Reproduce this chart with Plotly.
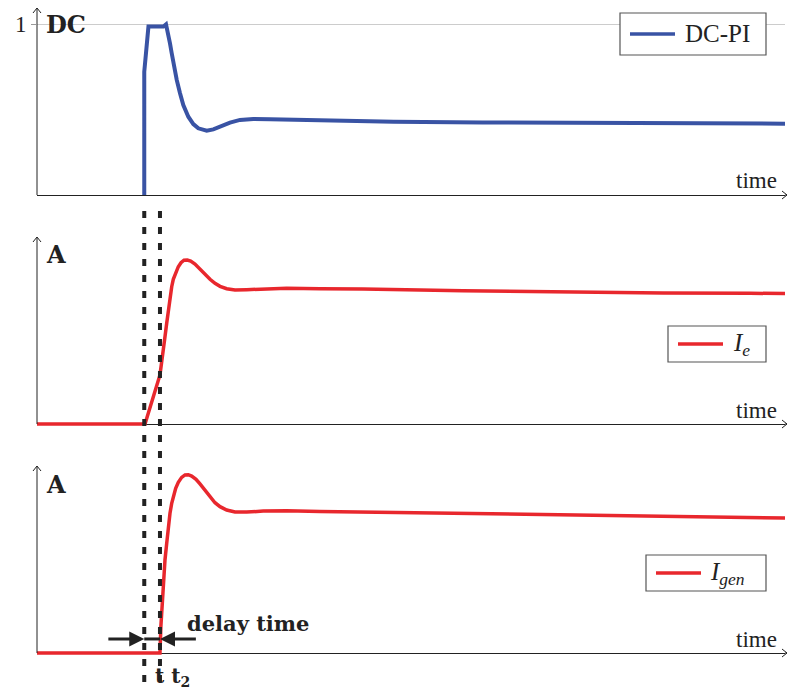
import plotly.graph_objects as go

# ---------------------------------------------------------------- data
# time in arbitrary units (0 .. 100 across the axis)
t_switch = 14.34   # duty-cycle controller switches on
t_delay = 16.44    # generator current starts to flow

dc_t = [14.34, 14.34, 14.9, 16.9, 17.25, 17.55, 17.78, 18.01, 18.22, 18.68, 19.12, 19.56,
        20.23, 20.9, 21.56, 22.69, 23.57, 24.69, 25.8, 27.14, 28.92, 31.15, 34.72, 39.17,
        47.7, 59.6, 75.3, 90.0, 100.0]
dc_v = [0.0, 0.72, 0.985, 0.985, 0.998, 0.946, 0.887, 0.829, 0.770, 0.673, 0.595, 0.526,
        0.458, 0.415, 0.390, 0.376, 0.384, 0.404, 0.423, 0.439, 0.444, 0.443, 0.439, 0.433,
        0.428, 0.424, 0.419, 0.417, 0.417]

ie_t = [0, 14.44, 16.44, 16.67, 16.89, 17.11, 17.34, 17.55, 17.78, 18.01, 18.22, 18.54,
        18.89, 19.25, 19.65, 20.09, 20.55, 21.12, 21.79, 22.46, 23.13, 23.8, 24.47, 25.36,
        26.47, 28.03, 30.25, 33.38, 37.83, 43.58, 56.95, 70.32, 83.69, 95.32, 100]
ie_v = [0, 0, 0.363, 0.449, 0.548, 0.647, 0.746, 0.844, 0.931, 1.017, 1.072, 1.124,
        1.165, 1.195, 1.213, 1.215, 1.207, 1.185, 1.146, 1.109, 1.072, 1.042, 1.020, 1.002,
        0.993, 0.995, 1.0, 1.005, 1.002, 1.0, 0.987, 0.978, 0.97, 0.968, 0.967]

ig_t = [0, 16.44, 16.56, 16.67, 16.81, 16.98, 17.11, 17.34, 17.55, 17.78, 18.01, 18.22,
        18.54, 18.89, 19.34, 19.79, 20.23, 20.68, 21.26, 21.79, 22.46, 23.13, 23.8, 24.47,
        25.36, 26.47, 28.03, 30.25, 33.38, 37.83, 48.5, 62.0, 75.3, 88.6, 100]
ig_v = [0, 0, 0.195, 0.319, 0.442, 0.590, 0.689, 0.812, 0.936, 1.035, 1.109, 1.163,
        1.220, 1.264, 1.301, 1.319, 1.321, 1.311, 1.287, 1.252, 1.203, 1.153, 1.113, 1.084,
        1.059, 1.044, 1.044, 1.051, 1.053, 1.049, 1.04, 1.03, 1.019, 1.007, 1.0]

y_labels = ["<b>DC</b>", "<b>A</b>", "<b>A</b>"]
legend_names = ["DC-PI", "<i>I</i><sub><i>e</i></sub>", "<i>I</i><sub><i>gen</i></sub>"]

# ---------------------------------------------------------------- layout helpers
W, H = 787, 690
SERIF = "Liberation Serif"
BOLD_SERIF = "DejaVu Serif"
INK = "#222222"
BLUE = "#3953A4"
RED = "#E8272D"


def fx(p):
    return p / W


def fy(p):
    return 1 - p / H


X_LEFT, X_RIGHT = 37, 785
# (row of the time axis, row of the arrow tip, pixels per unit)
panels = [(195, 8, 171.0), (424, 237, 135.0), (653, 466, 135.0)]
# legend frames: left, right, top, bottom, sample start, sample end, text start
legend_boxes = [(620, 766, 13, 55, 630, 675, 683),
                (668, 766, 326, 362, 678, 723, 731),
                (646, 766, 555, 591, 656, 701, 708)]

fig = go.Figure()

series = [(dc_t, dc_v, BLUE, 4), (ie_t, ie_v, RED, 3.5), (ig_t, ig_v, RED, 3.5)]
for i, (tt, vv, col, lw) in enumerate(series):
    sfx = "" if i == 0 else str(i + 1)
    fig.add_trace(go.Scatter(
        x=tt, y=vv, mode="lines", name=legend_names[i],
        line=dict(color=col, width=lw),
        xaxis="x" + sfx, yaxis="y" + sfx,
        showlegend=False, hoverinfo="skip",
    ))

layout = dict(
    width=W, height=H, margin=dict(l=0, r=0, t=0, b=0),
    paper_bgcolor="white", plot_bgcolor="rgba(0,0,0,0)",
    font=dict(family=SERIF, color=INK, size=20),
    showlegend=False,
)

shapes = []
annotations = []
for i, (axis_row, top_row, scale) in enumerate(panels):
    sfx = "" if i == 0 else str(i + 1)
    pad = 4
    layout["xaxis" + sfx] = dict(
        domain=[fx(X_LEFT), fx(X_RIGHT)], range=[0, 100], anchor="y" + sfx,
        showgrid=False, zeroline=False, showticklabels=False, ticks="",
        showline=False, automargin=False, fixedrange=True,
    )
    yax = dict(
        domain=[fy(axis_row + pad), fy(top_row)],
        range=[-pad / scale, (axis_row - top_row) / scale],
        anchor="x" + sfx, zeroline=True, zerolinecolor=INK, zerolinewidth=1,
        showline=False, automargin=False, fixedrange=True,
    )
    if i == 0:
        yax.update(tickvals=[1], ticktext=["1"], ticks="outside", ticklen=5,
                   tickcolor="#999999", tickwidth=1, showgrid=True,
                   gridcolor="#cccccc", gridwidth=1.2,
                   tickfont=dict(family=SERIF, size=23, color=INK))
    else:
        yax.update(showgrid=False, showticklabels=False, ticks="")
    layout["yaxis" + sfx] = yax

    # vertical axis line with open arrow tip
    shapes.append(dict(type="line", xref="paper", yref="paper",
                       x0=fx(X_LEFT), x1=fx(X_LEFT), y0=fy(axis_row), y1=fy(top_row),
                       line=dict(color=INK, width=1)))
    shapes.append(dict(type="path", xref="paper", yref="paper",
                       path=f"M {fx(X_LEFT - 4)} {fy(top_row + 5)} L {fx(X_LEFT)} {fy(top_row)} "
                            f"L {fx(X_LEFT + 4)} {fy(top_row + 5)}",
                       line=dict(color=INK, width=1)))
    # open arrow tip at the end of the time axis
    shapes.append(dict(type="path", xref="paper", yref="paper",
                       path=f"M {fx(X_RIGHT - 3)} {fy(axis_row - 4)} L {fx(X_RIGHT + 2)} {fy(axis_row)} "
                            f"L {fx(X_RIGHT - 3)} {fy(axis_row + 4)}",
                       line=dict(color=INK, width=1)))
    shapes.append(dict(type="line", xref="paper", yref="paper",
                       x0=fx(X_RIGHT), x1=fx(X_RIGHT + 2), y0=fy(axis_row), y1=fy(axis_row),
                       line=dict(color=INK, width=1)))

    annotations.append(dict(xref="paper", yref="paper", x=fx(44), y=fy(top_row + 18 if i else 24),
                            xanchor="left", yanchor="middle", showarrow=False,
                            text=y_labels[i], font=dict(family=BOLD_SERIF, size=24, color=INK)))
    annotations.append(dict(xref="paper", yref="paper", x=fx(779), y=fy(axis_row - 14),
                            xanchor="right", yanchor="middle", showarrow=False,
                            text="time", font=dict(family=SERIF, size=23, color=INK)))

    # legend frame with line sample and series name
    lx0, lx1, ly0, ly1, sx0, sx1, tx = legend_boxes[i]
    ymid = (ly0 + ly1) / 2
    shapes.append(dict(type="rect", xref="paper", yref="paper",
                       x0=fx(lx0), x1=fx(lx1), y0=fy(ly1), y1=fy(ly0),
                       fillcolor="white", line=dict(color="#555555", width=1.2), layer="above"))
    shapes.append(dict(type="line", xref="paper", yref="paper",
                       x0=fx(sx0), x1=fx(sx1), y0=fy(ymid), y1=fy(ymid),
                       line=dict(color=series[i][2], width=3.5), layer="above"))
    annotations.append(dict(xref="paper", yref="paper", x=fx(tx), y=fy(ymid),
                            xanchor="left", yanchor="middle", showarrow=False,
                            text=legend_names[i], font=dict(family=SERIF, size=25, color=INK)))

# dashed markers at the switching instant and at the delayed start
for tv in (t_switch, t_delay):
    shapes.append(dict(type="line", xref="x3", yref="paper", x0=tv, x1=tv,
                       y0=fy(682), y1=fy(203), layer="above",
                       line=dict(color=INK, width=4, dash="7px,9px")))

# delay-time dimension arrows
y_dim = 0.104
shapes.append(dict(type="line", xref="x3", yref="y3", x0=t_switch, x1=t_delay,
                   y0=y_dim, y1=y_dim, line=dict(color=INK, width=3)))
annotations.append(dict(xref="x3", yref="y3", axref="x3", ayref="y3",
                        x=t_switch, y=y_dim, ax=t_switch - 5, ay=y_dim, text="",
                        showarrow=True, arrowhead=2, arrowsize=1.0, arrowwidth=3,
                        arrowcolor=INK))
annotations.append(dict(xref="x3", yref="y3", axref="x3", ayref="y3",
                        x=t_delay, y=y_dim, ax=t_delay + 5, ay=y_dim, text="",
                        showarrow=True, arrowhead=2, arrowsize=1.0, arrowwidth=3,
                        arrowcolor=INK))
annotations.append(dict(xref="paper", yref="paper", x=fx(185), y=fy(623),
                        xanchor="left", yanchor="middle", showarrow=False,
                        text="<b>delay time</b>", font=dict(family=BOLD_SERIF, size=21, color=INK)))
annotations.append(dict(xref="paper", yref="paper", x=fx(153), y=fy(677),
                        xanchor="left", yanchor="middle", showarrow=False,
                        text="<b>t t<sub>2</sub></b>", font=dict(family=BOLD_SERIF, size=20, color=INK)))

layout["shapes"] = shapes
layout["annotations"] = annotations
fig.update_layout(**layout)

fig.write_html("out.html")
